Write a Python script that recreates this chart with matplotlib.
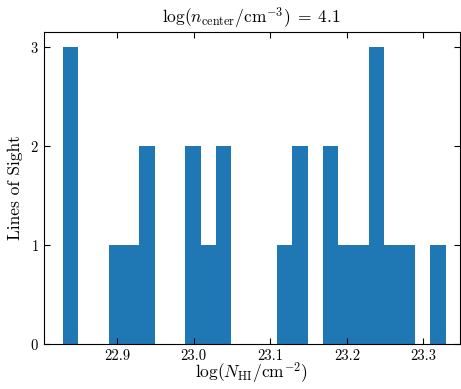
import numpy as np
import matplotlib
matplotlib.use("Agg")
import matplotlib.pyplot as plt

plt.rcParams["font.family"] = "serif"
plt.rcParams["font.serif"] = ["cmr10", "DejaVu Serif"]
plt.rcParams["mathtext.fontset"] = "cm"
plt.rcParams["axes.formatter.use_mathtext"] = True

# histogram: 25 bins of width 0.02 dex
bin_edges = np.round(np.linspace(22.829, 23.329, 26), 3)
counts = [3, 0, 0, 1, 1, 2, 0, 0, 2, 1, 2, 0, 0, 0,
          1, 2, 0, 2, 1, 1, 3, 1, 1, 0, 1]
xticks = [22.9, 23.0, 23.1, 23.2, 23.3]
yticks = [0, 1, 2, 3]

bin_centers = 0.5 * (bin_edges[:-1] + bin_edges[1:])

fig = plt.figure(figsize=(4.61, 3.89), dpi=100)
ax = fig.add_axes([43.5 / 461, 45 / 389, 416 / 461, 312 / 389])

ax.hist(bin_centers, bins=bin_edges, weights=counts, color="#1f77b4")

ax.set_xlim(22.804, 23.347)
ax.set_ylim(0, 3.15)
ax.set_xticks(xticks)
ax.set_xticklabels([f"{t:.1f}" for t in xticks])
ax.set_yticks(yticks)
ax.tick_params(direction="in", top=True, right=True, length=4.5, width=0.8, labelsize=10.5)

ax.set_xlabel(r"$\log(N_{\rm HI}/{\rm cm}^{-2})$", fontsize=12.5, labelpad=-1)
ax.set_ylabel("Lines of Sight", fontsize=12.5, labelpad=5)
ax.set_title(r"$\log(n_{\rm center}/{\rm cm}^{-3})\;=\;4.1$", fontsize=12.5, pad=6)

fig.savefig("out.png", dpi=100)
